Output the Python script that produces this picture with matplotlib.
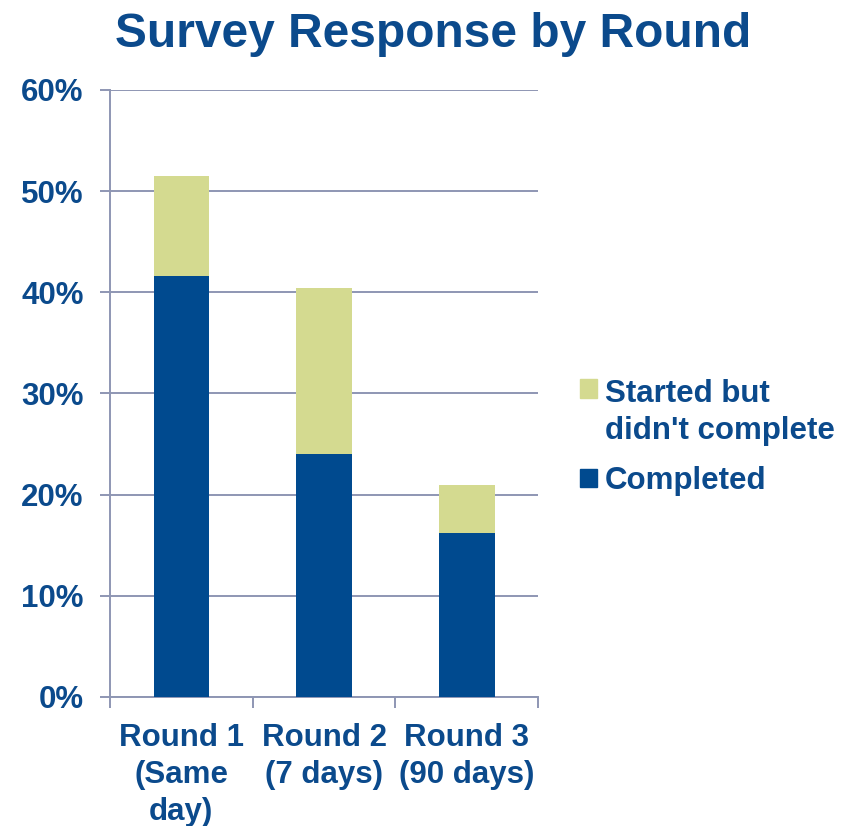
import numpy as np
import matplotlib.pyplot as plt
from matplotlib.patches import Patch

plt.rcParams['font.family'] = ['Liberation Sans', 'DejaVu Sans']
plt.rcParams['font.weight'] = 'bold'

# dados das rodadas
rodadas = ["Round 1\n(Same\nday)", "Round 2\n(7 days)", "Round 3\n(90 days)"]
completou = [41.6, 24.0, 16.2]
nao_completou = [9.9, 16.4, 4.8]
y_ticks = [0, 10, 20, 30, 40, 50, 60]

azul = '#004A8F'
verde = '#D4DA90'
cor_texto = '#0B4A8C'
cor_grade = '#8E96B3'
tam = 22.5

fig = plt.figure(figsize=(8.55, 8.26), dpi=100)
ax = fig.add_axes([0.1287, 0.1562, 0.5006, 0.7349])

x = np.arange(len(rodadas))
largura = 0.39
ax.bar(x, completou, largura, color=azul, zorder=3)
ax.bar(x, nao_completou, largura, bottom=completou, color=verde, zorder=3)

ax.set_xlim(-0.5, 2.5)
ax.set_ylim(0, 60)

# eixo y
ax.set_yticks(y_ticks)
ax.set_yticklabels([f"{v}%" for v in y_ticks])
ax.tick_params(axis='y', length=7, width=1.4, color=cor_grade, pad=12,
               labelsize=tam, labelcolor=cor_texto)
ax.grid(axis='y', color=cor_grade, linewidth=1.4, zorder=0)

# eixo x: marcas nas divisas, rótulos no centro
ax.set_xticks([-0.5, 0.5, 1.5, 2.5])
ax.set_xticklabels([])
ax.set_xticks(x, minor=True)
ax.set_xticklabels(rodadas, minor=True, linespacing=1.3)
ax.tick_params(axis='x', which='major', length=8, width=1.4, color=cor_grade)
ax.tick_params(axis='x', which='minor', length=0, pad=19,
               labelsize=tam, labelcolor=cor_texto)

for lado in ['top', 'right']:
    ax.spines[lado].set_visible(False)
for lado in ['left', 'bottom']:
    ax.spines[lado].set_color(cor_grade)
    ax.spines[lado].set_linewidth(1.4)

fig.text(0.507, 1 - 47 / 826, "Survey Response by Round", ha='center',
         va='baseline', fontsize=34.5, color=cor_texto, fontweight='bold')

# legenda
handles = [Patch(color=verde), Patch(color=azul)]
leg = ax.legend(handles, ["Started but\ndidn't complete", "Completed"],
                loc='center left', bbox_to_anchor=(1.098, 0.427), frameon=False,
                fontsize=tam, handlelength=0.54, handleheight=0.54,
                handletextpad=0.26, labelspacing=0.64, borderpad=0,
                borderaxespad=0)
for t in leg.get_texts():
    t.set_color(cor_texto)
    t.set_linespacing(1.3)
# quadradinho alinhado à primeira linha do rótulo de duas linhas
for coluna in leg._legend_handle_box.get_children():
    coluna.get_children()[0].align = 'top'

fig.savefig('out.png', dpi=100)
